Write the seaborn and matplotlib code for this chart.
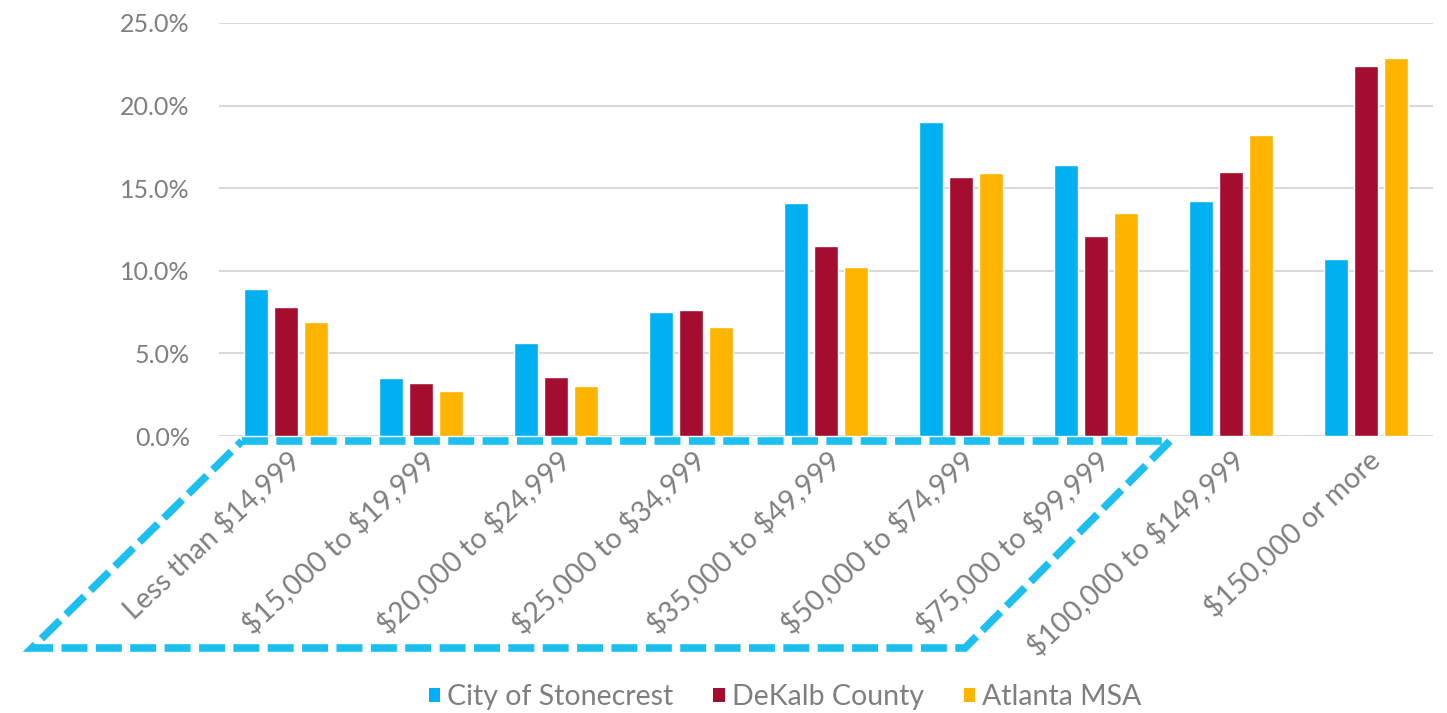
import matplotlib
matplotlib.use("Agg")
import matplotlib.pyplot as plt
import seaborn as sns
import pandas as pd
from matplotlib.patches import Polygon, Patch
from matplotlib.ticker import FuncFormatter

categories = ["Less than $14,999", "$15,000 to $19,999", "$20,000 to $24,999",
              "$25,000 to $34,999", "$35,000 to $49,999", "$50,000 to $74,999",
              "$75,000 to $99,999", "$100,000 to $149,999", "$150,000 or more"]
stonecrest = [8.9, 3.5, 5.6, 7.5, 14.1, 19.0, 16.4, 14.2, 10.7]
dekalb = [7.8, 3.2, 3.6, 7.6, 11.5, 15.7, 12.1, 16.0, 22.4]
atlanta = [6.9, 2.7, 3.0, 6.6, 10.2, 15.9, 13.5, 18.2, 22.9]
series_names = ["City of Stonecrest", "DeKalb County", "Atlanta MSA"]
colors = ["#00B0F0", "#A50D30", "#FFB500"]

rows = []
for name, vals in zip(series_names, [stonecrest, dekalb, atlanta]):
    for c, v in zip(categories, vals):
        rows.append({"category": c, "series": name, "value": v})
df = pd.DataFrame(rows)

sns.set_style("white")
plt.rcParams['font.family'] = ['Lato', 'DejaVu Sans']
plt.rcParams['text.parse_math'] = False

fig = plt.figure(figsize=(14.47, 7.13), dpi=100)
ax = fig.add_axes([219/1447, 1-436/713, (1433-219)/1447, (436-23)/713])

sns.barplot(data=df, x="category", y="value", hue="series", order=categories,
            hue_order=series_names, palette=colors, saturation=1,
            width=0.667, gap=0.2, ax=ax, legend=False)

ax.set_ylim(0, 25)
ax.set_xlim(-0.5, len(categories) - 0.5)
ax.set_yticks([0, 5, 10, 15, 20, 25])
ax.yaxis.set_major_formatter(FuncFormatter(lambda v, p: f"{v:.1f}%"))
ax.grid(axis="y", color="#D9D9D9", linewidth=1.5)
ax.set_axisbelow(True)
for s in ax.spines.values():
    s.set_visible(False)
ax.set_xlabel("")
ax.set_ylabel("")
ax.tick_params(axis="y", length=0, pad=21, labelsize=18, labelcolor="#7F7F7F")
ax.tick_params(axis="x", length=0, pad=7, labelsize=20.5, labelcolor="#7F7F7F")
for lab in ax.get_xticklabels():
    lab.set_rotation(43)
    lab.set_ha("right")
    lab.set_va("top")
    lab.set_rotation_mode("anchor")

# legend
handles = [Patch(facecolor=c, edgecolor="none") for c in colors]
fig.legend(handles, series_names, loc="center", bbox_to_anchor=(785/1447, 1-697/713),
           ncol=3, frameon=False, fontsize=20.5, handlelength=0.4, handleheight=0.4,
           handletextpad=0.25, columnspacing=1.4, labelcolor="#7F7F7F")

# dashed parallelogram annotation (figure pixel coordinates)
W, H = 1447, 713
pts = [(242, 441), (1170, 441), (965, 648), (32, 648)]
poly = Polygon([(x / W, 1 - y / H) for x, y in pts], closed=True, fill=False,
               edgecolor="#1DBFEF", linewidth=5.5, linestyle=(0, (3.4, 1.1)),
               transform=fig.transFigure, clip_on=False)
fig.add_artist(poly)

fig.savefig("out.png", dpi=100)
